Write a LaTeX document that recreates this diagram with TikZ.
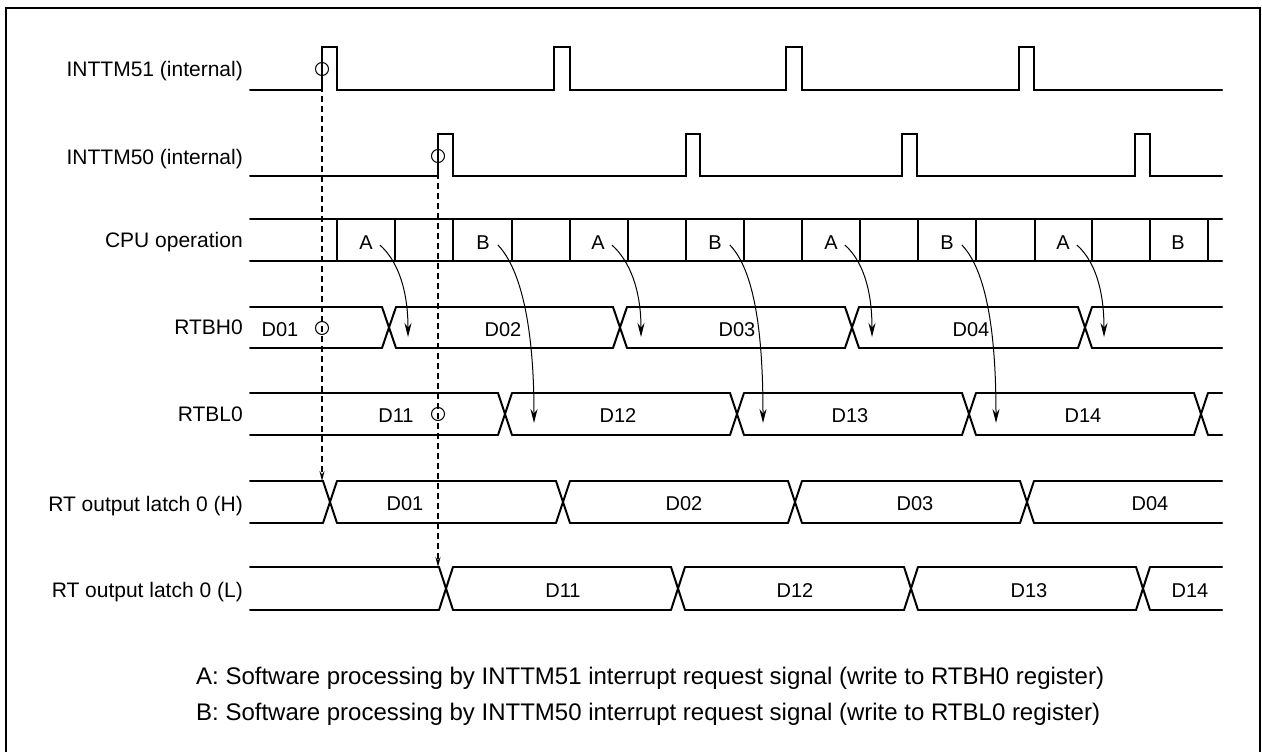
\documentclass[tikz,border=0pt]{standalone}
\usepackage{fontspec}
\setmainfont{Liberation Sans}
\usetikzlibrary{arrows.meta}
\newcommand\busrow[3]{%
  \foreach \t [remember=\t as \lastt (initially 243)] in {#3,1229} {
    \draw[sig] (\lastt+7,#1) -- (\t-7,#1);
    \draw[sig] (\lastt+7,#2) -- (\t-7,#2);
  }
  \foreach \t in {#3} {
    \draw[sig] (\t-7,#1) -- (\t+7,#2);
    \draw[sig] (\t-7,#2) -- (\t+7,#1);
  }
}
\begin{document}
\begin{tikzpicture}[x=1pt,y=-1pt,
  sig/.style={line width=2pt, line cap=round, line join=miter},
  frm/.style={line width=2pt},
  div/.style={line width=1.8pt},
  lbl/.style={anchor=base east, inner sep=0pt, font=\fontsize{21}{25}\selectfont},
  dat/.style={anchor=center, inner sep=0pt, font=\fontsize{20}{24}\selectfont},
  note/.style={anchor=base west, inner sep=0pt, font=\fontsize{24}{28}\selectfont},
  ring/.style={circle, draw, line width=1pt, minimum size=13pt, inner sep=0pt},
  wr/.style={line width=1pt, -{Stealth[length=14pt,width=7pt]}},
  trig/.style={line width=1.2pt, dash pattern=on 6pt off 4pt, -{Stealth[length=10pt,width=5pt]}},
]
\useasboundingbox (0,0) rectangle (1262,752);
\draw[frm] (6,8) rectangle (1260,770);

% left labels
\node[lbl] (l51) at (243,77) {INTTM51 (internal)};
\node[lbl] (l50) at (243,164) {INTTM50 (internal)};
\node[lbl] (lcpu) at (243,247) {CPU operation};
\node[lbl] (lbh) at (243,334) {RTBH0};
\node[lbl] (lbl0) at (243,421) {RTBL0};
\node[lbl] (llh) at (243,511) {RT output latch 0 (H)};
\node[lbl] (lll) at (243,597) {RT output latch 0 (L)};

% INTTM51
\draw[sig] (250,90) -- (322,90) -- (322,47) -- (337,47) -- (337,90)
  -- (554,90) -- (554,47) -- (570,47) -- (570,90)
  -- (786,90) -- (786,47) -- (802,47) -- (802,90)
  -- (1019,90) -- (1019,47) -- (1034,47) -- (1034,90) -- (1222,90);
% INTTM50
\draw[sig] (250,176) -- (438,176) -- (438,134) -- (453,134) -- (453,176)
  -- (686,176) -- (686,134) -- (700,134) -- (700,176)
  -- (902,176) -- (902,134) -- (917,134) -- (917,176)
  -- (1135,176) -- (1135,134) -- (1150,134) -- (1150,176) -- (1222,176);

% CPU operation
\draw[sig] (250,219) -- (1222,219);
\draw[sig] (250,261) -- (1222,261);
\foreach \x in {337,395,453,512,570,628,686,744,802,860,918,976,1035,1092,1150,1208}
  \draw[div] (\x,219) -- (\x,261);
\foreach \n/\x/\s in {A1/366/A,B1/483/B,A2/598/A,B2/715/B,A3/831/A,B3/947/B,A4/1063/A,B4/1178/B}
  \node[dat] (\n) at (\x,243) {\s};

% buses
\busrow{307}{348}{389,620,852,1085}
\busrow{393}{435}{505,737,969,1201}
\busrow{481}{523}{330,563,795,1027}
\busrow{567}{610}{446,678,911,1143}

\foreach \n/\x/\s in {h1/280/D01,h2/503/D02,h3/737/D03,h4/971/D04}
  \node[dat] (\n) at (\x,330) {\s};
\foreach \n/\x/\s in {l1/396/D11,l2/618/D12,l3/850/D13,l4/1083/D14}
  \node[dat] (\n) at (\x,416) {\s};
\foreach \n/\x/\s in {oh1/405/D01,oh2/684/D02,oh3/915/D03,oh4/1150/D04}
  \node[dat] (\n) at (\x,504) {\s};
\foreach \n/\x/\s in {ol1/563/D11,ol2/795/D12,ol3/1029/D13,ol4/1190/D14}
  \node[dat] (\n) at (\x,591) {\s};

% circles
\node[ring] (c1) at (322,69) {};
\node[ring] (c2) at (438,156) {};
\node[ring] (c3) at (322,328) {};
\node[ring] (c4) at (438,414) {};

% dashed trigger lines
\coordinate (t1) at (322,481);
\coordinate (t2) at (438,567);
\draw[trig] (c1) -- (t1);
\draw[trig] (c2) -- (t2);

% write arrows
\foreach \n/\x in {A1/408,A2/641,A3/872,A4/1104} {
  \coordinate (e\n) at (\x,337);
  \draw[wr] ([shift={(7,2)}]\n.east) .. controls +(18,16) and +(0,-47) .. (e\n);
}
\foreach \n/\x in {B1/534,B2/763,B3/996} {
  \coordinate (e\n) at (\x,423);
  \draw[wr] ([shift={(8,2)}]\n.east) .. controls +(24,25) and +(0,-93) .. (e\n);
}

% notes
\node[note] (na) at (196,684) {A: Software processing by INTTM51 interrupt request signal (write to RTBH0 register)};
\node[note] (nb) at (196,720) {B: Software processing by INTTM50 interrupt request signal (write to RTBL0 register)};
\end{tikzpicture}
\end{document}
